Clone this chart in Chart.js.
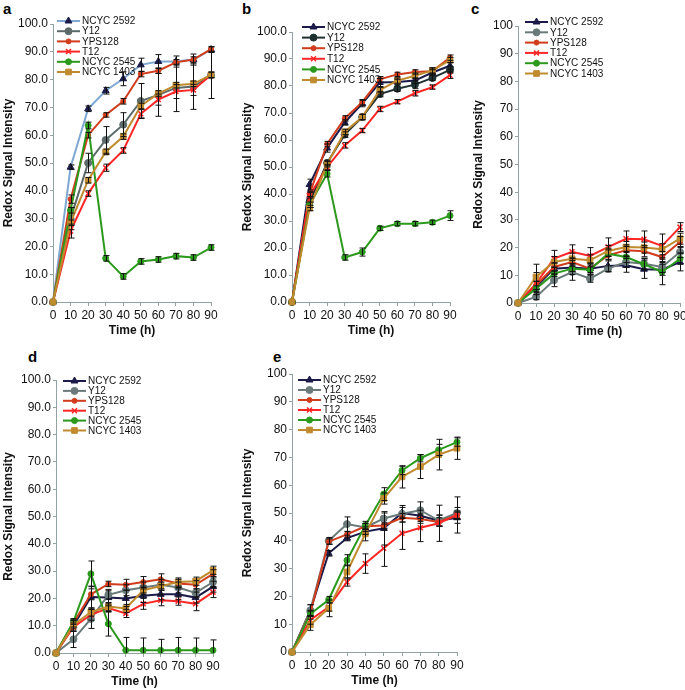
<!DOCTYPE html>
<html>
<head>
<meta charset="utf-8">
<script src="https://cdn.jsdelivr.net/npm/chart.js@4.4.1/dist/chart.umd.min.js"></script>
<style>
  body { margin: 0; background: #fff; width: 685px; height: 690px; position: relative; overflow: hidden;
         font-family: "Liberation Sans", Arial, sans-serif; }
  canvas { position: absolute; }
  .tag { position: absolute; font-weight: bold; font-size: 15px; color: #000; }
</style>
</head>
<body>
<div class="tag" style="left:3px;top:0px">a</div>
<div class="tag" style="left:242px;top:0px">b</div>
<div class="tag" style="left:471px;top:0px">c</div>
<div class="tag" style="left:28px;top:348px">d</div>
<div class="tag" style="left:273px;top:348px">e</div>

<canvas id="pa" width="225" height="340" style="left:0px;top:0px"></canvas>
<canvas id="pb" width="225" height="340" style="left:239px;top:0px"></canvas>
<canvas id="pc" width="220" height="341" style="left:470px;top:0px"></canvas>
<canvas id="pd" width="225" height="351" style="left:0px;top:340px"></canvas>
<canvas id="pe" width="232" height="350" style="left:239px;top:340px"></canvas>

<script>
const times = [0, 10, 20, 30, 40, 50, 60, 70, 80, 90];
const strains = ['NCYC 2592', 'Y12', 'YPS128', 'T12', 'NCYC 2545', 'NCYC 1403'];

// panel a
const a2592 = [0, 48.5, 69.5, 76, 80.3, 85.3, 86.5, 86.5, 87.2, 90.8];
const aY12 = [0, 30, 50, 58.3, 63.8, 72.3, 74.5, 77, 77.5, 81.5];
const aYPS128 = [0, 37, 60, 67.3, 72.2, 82, 83.2, 86.2, 87.2, 91];
const aT12 = [0, 25.5, 39, 48.3, 54.5, 67.7, 72.8, 75.7, 76.3, 81.7];
const a2545 = [0, 33, 63.5, 15.7, 9.2, 14.6, 15.3, 16.5, 16, 19.6];
const a1403 = [0, 28.5, 43.8, 54, 59.5, 70.5, 75, 78, 78.5, 81.7];
const a2592Err = [0, 0.8, 1, 1.2, 2.5, 2.4, 2.5, 2, 2, 1];
const aY12Err = [0, 4, 3.5, 4.8, 4.3, 6.3, 7.7, 8.5, 8.2, 8.3];
const aYPS128Err = [0, 1.5, 1, 0.8, 1, 1, 1, 1, 1, 0.8];
const aT12Err = [0, 2.5, 1, 1.3, 1, 1.5, 2, 2.5, 2, 1];
const a2545Err = [0, 1, 1.2, 1, 1, 1, 1, 1, 1, 1];
const a1403Err = [0, 1, 1, 1, 1, 1, 1, 1, 1, 1];

// panel b
const b2592 = [0, 43.5, 57, 66.5, 73.5, 81.3, 81.5, 82, 85, 87.5];
const bY12 = [0, 37, 51.5, 62, 68.5, 77, 79, 80.5, 83, 86];
const bYPS128 = [0, 40, 58.5, 68, 74, 82.5, 84.3, 85.2, 85.5, 90.5];
const bT12 = [0, 39.5, 50, 58, 63.5, 71.5, 74.2, 77.3, 79.6, 84];
const b2545 = [0, 36, 47.5, 16.5, 18.5, 27.3, 29, 29, 29.5, 32];
const b1403 = [0, 34.8, 51, 63, 68.5, 78.5, 82, 83.8, 85.8, 89.6];
const b2592Err = [0, 2, 1.5, 1, 1.2, 1.5, 1, 1, 1, 1.2];
const bY12Err = [0, 2, 1, 1, 1, 1, 1, 1.5, 1, 1.2];
const bYPS128Err = [0, 1, 1, 1, 1, 1, 0.8, 0.8, 0.8, 1];
const bT12Err = [0, 1, 1, 1, 0.8, 1, 0.8, 1, 0.8, 1.2];
const b2545Err = [0, 1, 1.2, 1, 1.5, 0.8, 0.8, 0.8, 0.8, 1.8];
const b1403Err = [0, 1, 1, 1, 1, 1, 1, 1, 1, 1];

// panel c
const c2592 = [0, 5.8, 12.4, 12.8, 12.4, 13.4, 13.6, 12.2, 12, 14.8];
const cY12 = [0, 2.2, 8.2, 11.2, 8.8, 12.4, 14.8, 14.2, 13, 18.4];
const cYPS128 = [0, 6.4, 13, 14.8, 12.4, 17.2, 19, 18.7, 16.6, 22];
const cT12 = [0, 7, 16, 18.5, 17, 20.2, 23.2, 23, 20.6, 27.4];
const c2545 = [0, 5.2, 10.6, 12.4, 12, 17.8, 16.6, 14, 11.2, 16];
const c1403 = [0, 9.4, 14.8, 16, 15.4, 18.8, 20.2, 20, 19.4, 23.2];
const c2592Err = [0, 2, 2, 2.5, 2, 2.2, 2.5, 3.3, 2, 3.2];
const cY12Err = [0, 1, 2.3, 3, 1.3, 1, 2, 2, 2, 2];
const cYPS128Err = [0, 1.5, 1.5, 1.5, 2, 2, 2, 2, 2, 2];
const cT12Err = [0, 4, 3, 2.5, 3, 3.3, 2.8, 3, 4.3, 1.6];
const c2545Err = [0, 1, 1, 1, 1, 2, 2, 2, 4.6, 2];
const c1403Err = [0, 4.6, 2, 2, 2, 2, 2, 2, 2, 2];

// panel d
const d2592 = [0, 10, 20.5, 20.3, 20, 21, 21.5, 21.5, 20.3, 24.3];
const dY12 = [0, 5, 12.5, 21.3, 23, 24, 25, 24, 22, 26];
const dYPS128 = [0, 11, 21.5, 25.3, 25, 26, 27, 25.5, 25, 29];
const dT12 = [0, 9.5, 14, 16.5, 14.5, 18, 19.3, 19, 18, 22.3];
const d2545 = [0, 11.5, 29, 10.7, 1, 1, 1, 1, 1, 1];
const d1403 = [0, 10.3, 15, 17, 16.3, 23, 24.5, 26, 26.3, 30.3];
const d2592Err = [0, 2, 4, 3, 3, 2.5, 2, 2, 2, 2];
const dY12Err = [0, 3, 3.5, 1.5, 2, 2, 2, 2, 1.5, 2];
const dYPS128Err = [0, 1.5, 2, 1, 2, 2, 2, 1.5, 1.5, 1.5];
const dT12Err = [0, 1.5, 2, 1.5, 1.5, 2, 2, 1.5, 2.5, 2];
const d2545Err = [0, 1, 4.7, 4.5, 4.7, 4.5, 4, 4.7, 4.5, 3.8];
const d1403Err = [0, 1.5, 1.5, 1.5, 1.5, 1.5, 1.5, 1.5, 1.5, 1.5];

// panel e
const e2592 = [0, 15, 35.5, 41, 43.3, 44.5, 50, 49, 47.2, 48.3];
const eY12 = [0, 15, 40, 46, 44.8, 48, 49.7, 51, 47.3, 50];
const eYPS128 = [0, 14, 39.7, 42.3, 45.2, 45.5, 48.3, 47.8, 46.8, 49.2];
const eT12 = [0, 11.5, 16.2, 25.2, 31.8, 37.3, 42.7, 44.7, 46.3, 49.3];
const e2545 = [0, 13.7, 18.8, 33, 45.5, 56.8, 65.3, 69.7, 72.7, 75.5];
const e1403 = [0, 9.8, 15.7, 28.8, 42.5, 55.2, 63, 66.7, 71, 73.3];
const e2592Err = [0, 2, 1, 1, 1, 6, 2, 2, 2, 2];
const eY12Err = [0, 2, 1.2, 2.6, 1.5, 2, 3, 3, 2, 2];
const eYPS128Err = [0, 1, 1, 1, 1, 1, 1.5, 1.5, 1.5, 1.5];
const eT12Err = [0, 1.5, 1.5, 1.5, 3.5, 6.5, 5.8, 5, 6.5, 6.5];
const e2545Err = [0, 1, 1.2, 2, 1.5, 2.3, 1.5, 1.3, 2, 1.5];
const e1403Err = [0, 2, 3, 2.5, 2.5, 2, 4, 4.3, 5.5, 4];

const axisColor = '#93a3a3';
const markers = [
  { style: 'triangle', r: 4, fill: '#1b1b4b' },
  { style: 'circle', r: 3.5 },
  { style: 'circle', r: 2.5 },
  { style: 'crossRot', r: 3.5 },
  { style: 'circle', r: 3 },
  { style: 'rect', r: 4 }
];

// error bars, drawn with the panel's own scales
const errorBars = {
  id: 'errorBars',
  afterDatasetsDraw(chart) {
    const { ctx, chartArea, scales: { x, y } } = chart;
    ctx.save();
    ctx.beginPath();
    ctx.rect(chartArea.left - 10, chartArea.top - 10, chartArea.right - chartArea.left + 20, chartArea.bottom - chartArea.top + 10);
    ctx.clip();
    ctx.strokeStyle = '#111';
    ctx.lineWidth = 1;
    chart.data.datasets.forEach(ds => {
      ds.data.forEach((v, i) => {
        const e = ds.err[i];
        if (!e) return;
        const px = Math.round(x.getPixelForValue(times[i])) + 0.5;
        const y1 = y.getPixelForValue(v - e);
        const y2 = y.getPixelForValue(v + e);
        ctx.beginPath();
        ctx.moveTo(px, y1); ctx.lineTo(px, y2);
        ctx.moveTo(px - 3, y1); ctx.lineTo(px + 3, y1);
        ctx.moveTo(px - 3, y2); ctx.lineTo(px + 3, y2);
        ctx.stroke();
      });
    });
    ctx.restore();
  }
};

// legend inside the plot, top left
const insideLegend = {
  id: 'insideLegend',
  afterDraw(chart, args, opts) {
    const { ctx, chartArea } = chart;
    ctx.save();
    ctx.font = '10px "Liberation Sans", Arial, sans-serif';
    ctx.textBaseline = 'middle';
    ctx.fillStyle = '#111';
    strains.forEach((name, i) => {
      const ds = chart.data.datasets[i];
      const x0 = chartArea.left + opts.dx;
      const yy = chartArea.top + opts.dy + i * opts.gap;
      ctx.strokeStyle = ds.borderColor;
      ctx.lineWidth = ds.borderWidth;
      ctx.beginPath();
      ctx.moveTo(x0, yy); ctx.lineTo(x0 + 23, yy);
      ctx.stroke();
      ctx.fillStyle = ds.pointBackgroundColor;
      ctx.strokeStyle = ds.pointBorderColor;
      ctx.lineWidth = ds.pointBorderWidth;
      Chart.helpers.drawPoint(ctx, { pointStyle: ds.pointStyle, radius: ds.pointRadius, borderWidth: ds.pointBorderWidth, rotation: 0 }, x0 + 11.5, yy);
      ctx.fillStyle = '#111';
      ctx.fillText(name, x0 + 25, yy + 0.5);
    });
    ctx.restore();
  }
};

function makePanel(id, series, errs, colors, lay) {
  const datasets = series.map((vals, i) => {
    const m = markers[i];
    const c = colors[i];
    const mc = (i === 0 && lay.markColor) ? lay.markColor : c;
    return {
      label: strains[i],
      data: vals,
      err: errs[i],
      borderColor: c,
      borderWidth: 2,
      pointStyle: m.style,
      pointRadius: m.r,
      pointBackgroundColor: mc,
      pointBorderColor: mc,
      pointBorderWidth: m.style === 'crossRot' ? 1.5 : 1,
      order: 5 - i,
      clip: false,
      tension: 0
    };
  });
  new Chart(document.getElementById(id), {
    type: 'line',
    data: { labels: times, datasets },
    options: {
      responsive: false,
      animation: false,
      parsing: true,
      layout: { padding: { top: lay.top, right: lay.right, left: 0, bottom: 0 } },
      scales: {
        x: {
          type: 'linear', min: 0, max: 90,
          afterFit: s => { s.height = 38; },
          border: { color: axisColor, width: 1 },
          grid: { drawOnChartArea: false, drawTicks: true, tickLength: 4, color: axisColor },
          ticks: { stepSize: 10, color: '#111', padding: 2, maxRotation: 0,
                   font: { family: '"Liberation Sans", Arial, sans-serif', size: 12 } },
          title: { display: true, text: 'Time (h)', color: '#111', padding: { top: 0, bottom: 2 },
                   font: { family: '"Liberation Sans", Arial, sans-serif', size: 12, weight: 'bold' } }
        },
        y: {
          min: 0, max: 100,
          afterFit: s => { s.width = lay.yw; },
          border: { color: axisColor, width: 1 },
          grid: { drawOnChartArea: false, drawTicks: true, tickLength: 3, color: axisColor },
          ticks: { stepSize: 10, color: '#111', padding: 2,
                   callback: v => lay.dec ? v.toFixed(1) : String(v),
                   font: { family: '"Liberation Sans", Arial, sans-serif', size: 12 } },
          title: { display: true, text: 'Redox Signal Intensity', color: '#111', padding: { top: 1, bottom: 0 },
                   font: { family: '"Liberation Sans", Arial, sans-serif', size: 12, weight: 'bold' } }
        }
      },
      plugins: {
        legend: { display: false },
        tooltip: { enabled: false },
        insideLegend: { dx: lay.lx, dy: lay.ly, gap: lay.gap }
      }
    },
    plugins: [errorBars, insideLegend]
  });
}

const baseColors = ['#1b1a48', '#6a7a7a', '#d03c1c', '#ff2626', '#2b9a1c', '#c08a2e'];

makePanel('pa',
  [a2592, aY12, aYPS128, aT12, a2545, a1403],
  [a2592Err, aY12Err, aYPS128Err, aT12Err, a2545Err, a1403Err],
  ['#7ea8d2', '#5c6a6a', '#d03c1c', '#ff2626', '#2b9a1c', '#c08a2e'],
  { top: 24, right: 14, yw: 53, dec: true, lx: 4, ly: -3, gap: 10.2, markColor: '#1b1b4b' });

makePanel('pb',
  [b2592, bY12, bYPS128, bT12, b2545, b1403],
  [b2592Err, bY12Err, bYPS128Err, bT12Err, b2545Err, b1403Err],
  ['#1b1a48', '#1f3030', '#d03c1c', '#ff2626', '#2b9a1c', '#c08a2e'],
  { top: 32, right: 14, yw: 53, dec: true, lx: 10, ly: -5, gap: 10.6 });

makePanel('pc',
  [c2592, cY12, cYPS128, cT12, c2545, c1403],
  [c2592Err, cY12Err, cYPS128Err, cT12Err, c2545Err, c1403Err],
  baseColors,
  { top: 26, right: 10, yw: 48, dec: false, lx: 7, ly: -4, gap: 10.3 });

makePanel('pd',
  [d2592, dY12, dYPS128, dT12, d2545, d1403],
  [d2592Err, dY12Err, dYPS128Err, dT12Err, d2545Err, d1403Err],
  baseColors,
  { top: 40, right: 12, yw: 56, dec: true, lx: 7, ly: 1, gap: 9.9 });

makePanel('pe',
  [e2592, eY12, eYPS128, eT12, e2545, e1403],
  [e2592Err, eY12Err, eYPS128Err, eT12Err, e2545Err, e1403Err],
  baseColors,
  { top: 34, right: 14, yw: 53, dec: false, lx: 6, ly: 6, gap: 10 });
</script>
</body>
</html>
